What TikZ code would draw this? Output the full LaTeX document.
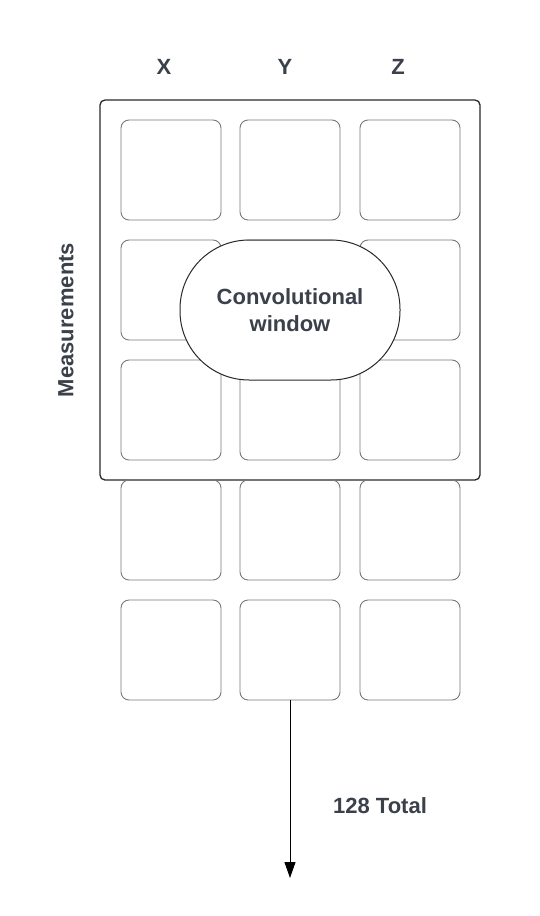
\documentclass[tikz,border=0pt]{standalone}
\usepackage{fontspec}
\setmainfont{Liberation Sans}
\usetikzlibrary{arrows.meta}
\definecolor{labelgray}{RGB}{58,65,74}
\definecolor{cellgray}{RGB}{120,120,124}
\definecolor{framegray}{RGB}{40,40,44}
\begin{document}
\begin{tikzpicture}[
    x=1pt, y=-1pt,
    mycell/.style={rectangle, draw=cellgray, line width=0.9pt, minimum width=100pt, minimum height=100pt, rounded corners=8pt},
    myframe/.style={rectangle, draw=framegray, line width=1.3pt, minimum width=380pt, minimum height=380pt, rounded corners=5pt},
    mywindow/.style={rectangle, draw=framegray, line width=1pt, fill=white, minimum width=220pt, minimum height=140pt, rounded corners=69pt, align=center, text=labelgray, font=\bfseries\fontsize{22}{27}\selectfont},
    mylabel/.style={text=labelgray, font=\bfseries\fontsize{22}{27}\selectfont},
    myarrow/.style={-{Triangle[length=16pt,width=11pt]}, line width=1pt, black},
]
\useasboundingbox (0,0) rectangle (540,916);
\node[myframe] (frame) at (290,290) {};

\node[mycell] (c11) at (171,170) {};
\node[mycell] (c12) at (290,170) {};
\node[mycell] (c13) at (410,170) {};
\node[mycell] (c21) at (171,290) {};
\node[mycell] (c22) at (290,290) {};
\node[mycell] (c23) at (410,290) {};
\node[mycell] (c31) at (171,410) {};
\node[mycell] (c32) at (290,410) {};
\node[mycell] (c33) at (410,410) {};
\node[mycell] (c41) at (171,530) {};
\node[mycell] (c42) at (290,530) {};
\node[mycell] (c43) at (410,530) {};
\node[mycell] (c51) at (171,650) {};
\node[mycell] (c52) at (290,650) {};
\node[mycell] (c53) at (410,650) {};

\node[mywindow] (window) at (290,310) {Convolutional\\window};

\node[mylabel] (xlab) at (164,67) {X};
\node[mylabel] (ylab) at (285,67) {Y};
\node[mylabel] (zlab) at (398,67) {Z};
\node[mylabel, rotate=90] (meas) at (66,320) {Measurements};
\node[mylabel] (total) at (380,806) {128 Total};

\coordinate (end) at (290,878);
\draw[myarrow] (c52.south) -- (end);
\end{tikzpicture}
\end{document}
